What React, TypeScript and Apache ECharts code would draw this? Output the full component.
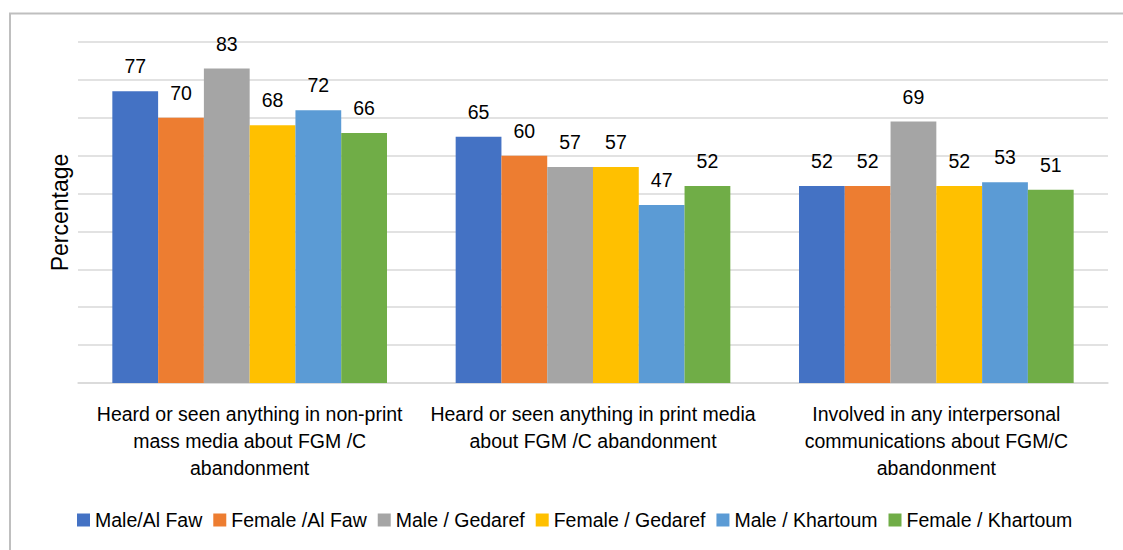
import React, { useEffect, useRef } from "react";
import * as echarts from "echarts";

const categories = [
  "Heard or seen anything in non-print\nmass media about FGM /C\nabandonment",
  "Heard or seen anything in print media\nabout FGM /C abandonment",
  "Involved in any interpersonal\ncommunications about FGM/C\nabandonment",
];

const seriesNames = [
  "Male/Al Faw",
  "Female /Al Faw",
  "Male / Gedaref",
  "Female / Gedaref",
  "Male / Khartoum",
  "Female / Khartoum",
];

const maleAlFaw = [77, 65, 52];
const femaleAlFaw = [70, 60, 52];
const maleGedaref = [83, 57, 69];
const femaleGedaref = [68, 57, 52];
const maleKhartoum = [72, 47, 53];
const femaleKhartoum = [66, 52, 51];

const seriesValues = [maleAlFaw, femaleAlFaw, maleGedaref, femaleGedaref, maleKhartoum, femaleKhartoum];
const colors = ["#4472C4", "#ED7D31", "#A5A5A5", "#FFC000", "#5B9BD5", "#70AD47"];

const yTicks = { min: 0, max: 90, interval: 10 };
const FONT = "'Liberation Sans', Arial, sans-serif";
const FS = 19.5;

export default function App() {
  const ref = useRef<HTMLDivElement>(null);
  useEffect(() => {
    document.body.style.margin = "0";
    const chart = echarts.init(ref.current!, undefined, { renderer: "svg" });
    chart.setOption({
      animation: false,
      textStyle: { fontFamily: FONT },
      graphic: [
        {
          type: "rect",
          shape: { x: 10, y: 13.5, width: 1200, height: 700 },
          style: { fill: "none", stroke: "#bfbfbf", lineWidth: 2 },
          silent: true,
        },
      ],
      grid: { left: 78, right: 15, top: 42, bottom: 167 },
      legend: {
        bottom: 15,
        left: 72,
        itemWidth: 13,
        itemHeight: 13,
        itemGap: 11,
        icon: "rect",
        textStyle: { fontSize: FS, color: "#000", fontFamily: FONT },
        data: seriesNames,
      },
      xAxis: {
        type: "category",
        data: categories,
        axisTick: { show: false },
        axisLine: { lineStyle: { color: "#d9d9d9", width: 1.5 } },
        axisLabel: {
          fontSize: FS,
          color: "#000",
          lineHeight: 27,
          margin: 17,
          interval: 0,
          fontFamily: FONT,
        },
      },
      yAxis: {
        type: "value",
        min: yTicks.min,
        max: yTicks.max,
        interval: yTicks.interval,
        name: "Percentage",
        nameLocation: "middle",
        nameGap: 7,
        nameTextStyle: { fontSize: 23, color: "#000", fontFamily: FONT },
        axisLabel: { show: false },
        axisLine: { show: false },
        axisTick: { show: false },
        splitLine: { lineStyle: { color: "#d9d9d9", width: 1.5 } },
      },
      series: seriesNames.map((name, i) => ({
        name,
        type: "bar",
        data: seriesValues[i],
        barGap: "0%",
        barCategoryGap: "20%",
        itemStyle: { color: colors[i] },
        label: {
          show: true,
          position: "top",
          distance: 15,
          fontSize: FS,
          color: "#000",
          fontFamily: FONT,
        },
      })),
    });
    return () => chart.dispose();
  }, []);
  return <div ref={ref} style={{ width: 1123, height: 550 }} />;
}
